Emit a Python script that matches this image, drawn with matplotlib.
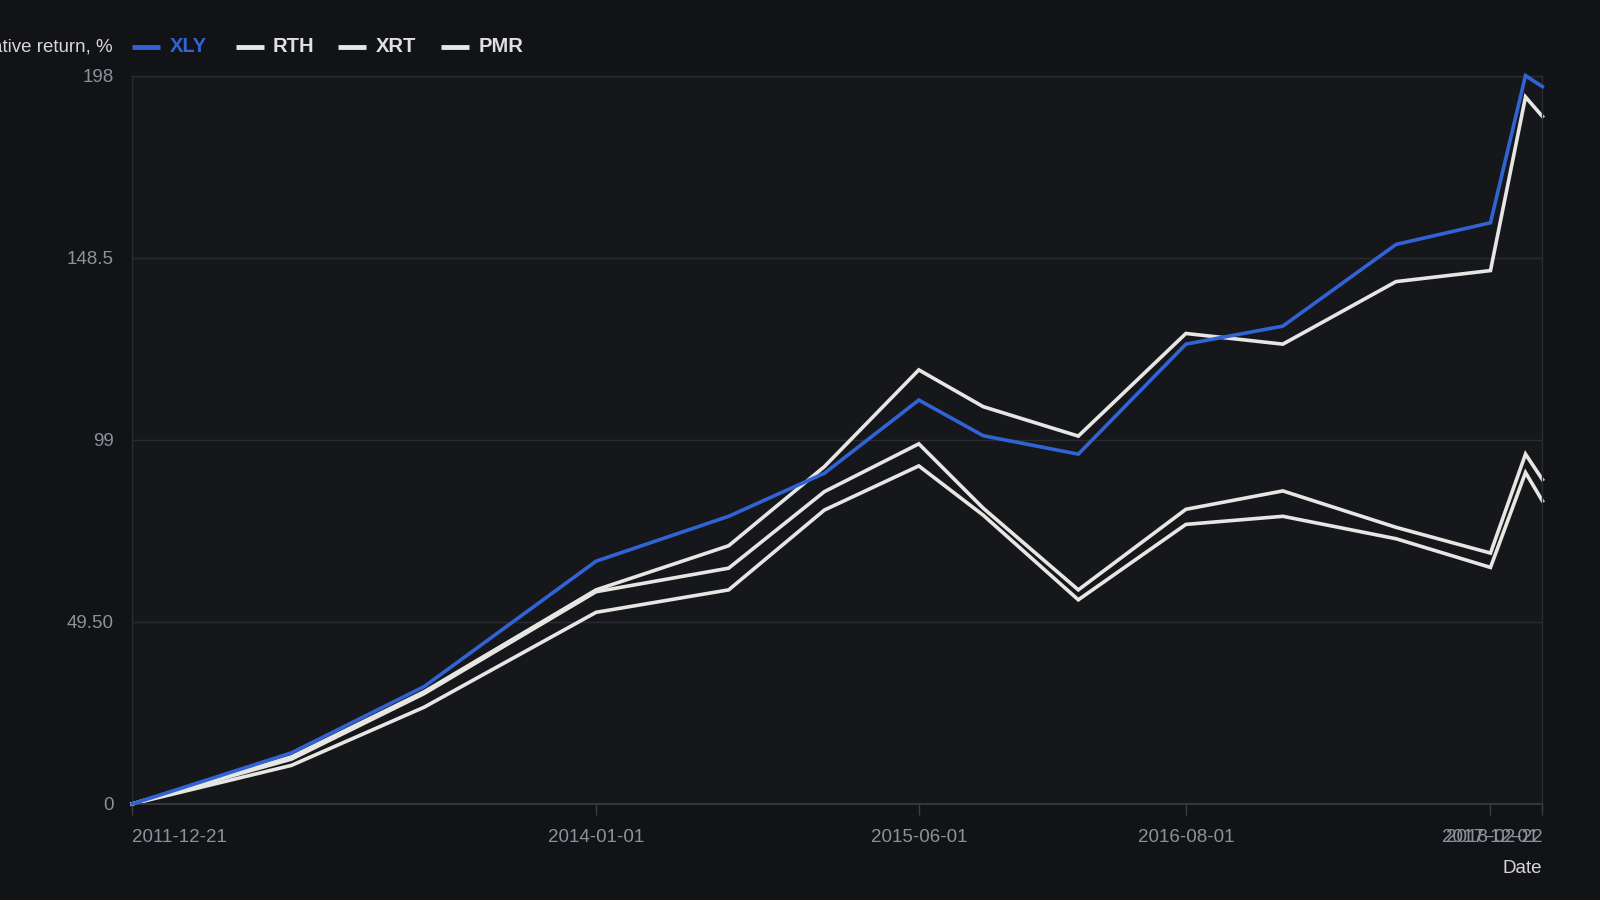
import matplotlib
matplotlib.use("Agg")
import matplotlib.pyplot as plt
from matplotlib.lines import Line2D
import pandas as pd

plt.rcParams['font.family'] = ['Liberation Sans', 'DejaVu Sans']

dates = ["2011-12-21", "2012-09-01", "2013-04-01", "2014-01-01", "2014-08-01",
         "2015-01-01", "2015-06-01", "2015-09-12", "2016-02-11", "2016-08-01",
         "2017-01-03", "2017-07-03", "2017-12-01", "2018-01-26", "2018-02-22"]
xly = [0, 13.9, 31.9, 66.0, 78.2, 89.9, 109.8, 100.1, 95.1, 125.0, 129.9, 152.1, 158.0, 198.0, 195.0]
rth = [0, 12.8, 30.5, 58.2, 70.2, 91.7, 118.0, 108.0, 100.0, 127.9, 125.0, 142.0, 145.0, 192.2, 186.9]
xrt = [0, 12.2, 30.0, 57.7, 64.1, 84.9, 97.9, 80.4, 58.2, 80.1, 85.1, 75.2, 68.2, 95.1, 88.2]
pmr = [0, 10.5, 26.3, 52.1, 58.2, 79.9, 91.9, 78.5, 55.5, 76.0, 78.2, 72.1, 64.3, 90.1, 82.4]

series_names = ["XLY", "RTH", "XRT", "PMR"]
series_vals = [xly, rth, xrt, pmr]
series_colors = ["#3163d4", "#e6e6e3", "#e6e6e3", "#e6e6e3"]

y_ticks = [0, 49.5, 99, 148.5, 198]
y_tick_labels = ["0", "49.50", "99", "148.5", "198"]
x_ticks = ["2011-12-21", "2014-01-01", "2015-06-01", "2016-08-01", "2017-12-01", "2018-02-22"]

BG = "#121317"
AX_BG = "#16171b"
GRID = "#2a2c31"
TICK = "#8e9199"

x = pd.to_datetime(dates)

fig = plt.figure(figsize=(16, 9), dpi=100, facecolor=BG)
ax = fig.add_axes([0.0825, 0.1067, 0.964 - 0.0825, 0.916 - 0.1067])
ax.set_facecolor(AX_BG)

order = [3, 2, 1, 0]
for i in order:
    ax.plot(x, series_vals[i], color=series_colors[i], lw=2.6, solid_joinstyle='miter',
            zorder=3 if i == 0 else 2, clip_on=False)

ax.set_xlim(pd.Timestamp(x_ticks[0]), pd.Timestamp(x_ticks[-1]))
ax.set_ylim(0, 198)

ax.set_yticks(y_ticks)
ax.set_yticklabels(y_tick_labels)
xt = pd.to_datetime(x_ticks)
ax.set_xticks(xt)
ax.set_xticklabels(x_ticks)
labels = ax.get_xticklabels()
labels[0].set_ha('left')
labels[-1].set_ha('right')

ax.grid(axis='y', color=GRID, lw=1)
ax.grid(axis='x', visible=False)
ax.set_axisbelow(True)
for s in ['left', 'right', 'top']:
    ax.spines[s].set_color(GRID)
    ax.spines[s].set_linewidth(1)
ax.spines['bottom'].set_color("#3a3d44")
ax.spines['bottom'].set_linewidth(1.2)

ax.tick_params(axis='y', length=0, pad=13, labelsize=13.5, labelcolor=TICK)
ax.tick_params(axis='x', length=8, width=1, color="#3a3d44", pad=10,
               labelsize=13.5, labelcolor=TICK)

fig.text(0.964, 0.0355, "Date", ha='right', va='center', fontsize=13.5, color="#d6d6d6")

# legend row
ly = 0.948
fig.text(0.0703, ly, "Cumulative return, %", ha='right', va='center', fontsize=13.5,
         color="#d6d6d6")
leg_items = [(0.0825, 0.1060), (0.1475, 0.1705), (0.2115, 0.2350), (0.2755, 0.2990)]
for (lx, tx), name, col in zip(leg_items, series_names, series_colors):
    fig.add_artist(Line2D([lx, lx + 0.0175], [ly, ly], color=col, lw=3.5,
                          solid_capstyle='butt', transform=fig.transFigure))
    fig.text(tx, ly, name, ha='left', va='center', fontsize=14.5, fontweight='bold',
             color=col if name == "XLY" else "#e0e0e0")

fig.savefig("out.png", dpi=100, facecolor=BG)
